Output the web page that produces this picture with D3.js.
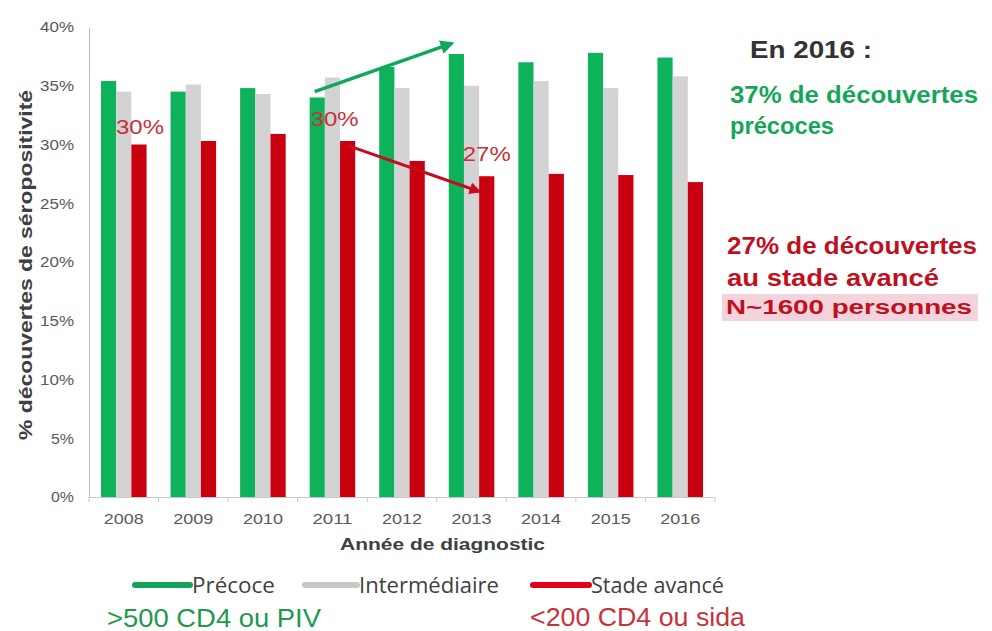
<!DOCTYPE html>
<html>
<head>
<meta charset="utf-8">
<script src="https://cdn.jsdelivr.net/npm/d3@7"></script>
<style>
  body { margin: 0; background: #fff; }
  svg { display: block; font-family: "Liberation Sans", Arial, sans-serif; }
  .tick text { fill: #595959; font-size: 15px; }
</style>
</head>
<body>
<svg id="chart" width="992" height="631"></svg>
<script>
// data ----------------------------------------
var years = ["2008", "2009", "2010", "2011", "2012", "2013", "2014", "2015", "2016"];
var series = ["Précoce", "Intermédiaire", "Stade avancé"];
var precoce = [35.4, 34.5, 34.8, 34.0, 36.6, 37.7, 37.0, 37.8, 37.4];
var intermediaire = [34.5, 35.1, 34.3, 35.7, 34.8, 35.0, 35.4, 34.8, 35.8];
var avance = [30.0, 30.3, 30.9, 30.3, 28.6, 27.3, 27.5, 27.4, 26.8];
var yTicks = [0, 5, 10, 15, 20, 25, 30, 35, 40];

var colors = ["#0db25a", "#d3d3d3", "#c9000f"];
var legendColors = ["#14a35a", "#c8c8c8", "#e3001b"];

var svg = d3.select("#chart");

// Scales ----------------------------------------
var x0 = d3.scaleBand().domain(years).range([89, 715]).paddingInner(0).paddingOuter(0);
var x1 = d3.scaleBand().domain(series).range([12, x0.bandwidth() - 12]);
var y = d3.scaleLinear().domain([0, 40]).range([497, 27]);

// Axes ----------------------------------------
var yAxis = svg.append("g")
  .attr("transform", "translate(89,0)")
  .call(d3.axisLeft(y).tickValues(yTicks).tickSize(0).tickPadding(15).tickFormat(function(d) { return d + "%"; }));
yAxis.select(".domain").attr("stroke", "#bfbfbf");
yAxis.selectAll(".tick text")
  .attr("textLength", function(d) { return d < 10 ? 23 : 34; })
  .attr("lengthAdjust", "spacingAndGlyphs");

var xAxis = svg.append("g")
  .attr("transform", "translate(0,497)")
  .call(d3.axisBottom(x0).tickSize(0).tickPadding(16).tickSizeOuter(0));
xAxis.select(".domain").attr("stroke", "#c8c8c8").attr("d", "M89,0.5H715");
xAxis.selectAll(".tick text")
  .attr("textLength", 40)
  .attr("lengthAdjust", "spacingAndGlyphs");

// small ticks on band boundaries
svg.append("g").selectAll("line")
  .data(years.concat(["end"]))
  .enter().append("line")
  .attr("x1", function(d, i) { return 89 + i * x0.step(); })
  .attr("x2", function(d, i) { return 89 + i * x0.step(); })
  .attr("y1", 497).attr("y2", 502)
  .attr("stroke", "#c8c8c8");

// Bars ----------------------------------------
var rows = years.map(function(yr, i) {
  return { year: yr, values: [precoce[i], intermediaire[i], avance[i]] };
});

var groups = svg.append("g").selectAll("g")
  .data(rows)
  .enter().append("g")
  .attr("transform", function(d) { return "translate(" + x0(d.year) + ",0)"; });

groups.selectAll("rect")
  .data(function(d) { return d.values.map(function(v, j) { return { s: series[j], v: v, j: j }; }); })
  .enter().append("rect")
  .attr("x", function(d) { return x1(d.s); })
  .attr("width", x1.bandwidth())
  .attr("y", function(d) { return y(d.v); })
  .attr("height", function(d) { return y(0) - y(d.v); })
  .attr("fill", function(d) { return colors[d.j]; });

// Axis titles ----------------------------------------
svg.append("text")
  .attr("x", 340).attr("y", 550)
  .attr("font-size", 17).attr("font-weight", "bold").attr("fill", "#404040")
  .attr("textLength", 205).attr("lengthAdjust", "spacingAndGlyphs")
  .text("Année de diagnostic");

svg.append("text")
  .attr("transform", "translate(32,440) rotate(-90)")
  .attr("font-size", 19).attr("font-weight", "bold").attr("fill", "#404040")
  .attr("textLength", 350).attr("lengthAdjust", "spacingAndGlyphs")
  .text("% découvertes de séropositivité");

// Annotations ----------------------------------------
var defs = svg.append("defs");
function marker(id, col) {
  defs.append("marker")
    .attr("id", id).attr("viewBox", "0 0 10 10")
    .attr("refX", 8).attr("refY", 5)
    .attr("markerWidth", 4).attr("markerHeight", 4)
    .attr("orient", "auto")
    .append("path").attr("d", "M0,0L10,5L0,10z").attr("fill", col);
}
marker("arrG", "#0fa85a");
marker("arrR", "#c40d1e");

// green arrow 2011 -> 2013 (in data coords)
svg.append("line")
  .attr("x1", x0("2011") + 17).attr("y1", y(34.5))
  .attr("x2", x0("2013") + 15).attr("y2", y(38.6))
  .attr("stroke", "#0fa85a").attr("stroke-width", 3.5)
  .attr("marker-end", "url(#arrG)");

// red arrow 2011 -> 2013
svg.append("line")
  .attr("x1", x0("2011") + x1("Stade avancé") + 8).attr("y1", y(29.9))
  .attr("x2", x0("2013") + x1("Stade avancé")).attr("y2", y(26.0))
  .attr("stroke", "#c40d1e").attr("stroke-width", 3)
  .attr("marker-end", "url(#arrR)");

var labels = [
  { year: "2008", text: "30%", v: 30.9, dx: 14 },
  { year: "2011", text: "30%", v: 31.6, dx: 0 },
  { year: "2013", text: "27%", v: 28.6, dx: 13 }
];
svg.append("g").selectAll("text")
  .data(labels)
  .enter().append("text")
  .attr("x", function(d) { return x0(d.year) + d.dx + 13; })
  .attr("y", function(d) { return y(d.v); })
  .attr("font-size", 21).attr("fill", "#c9303a")
  .attr("textLength", 48).attr("lengthAdjust", "spacingAndGlyphs")
  .text(function(d) { return d.text; });

// Right-hand text ----------------------------------------
function bigText(x, yy, txt, col, size, len) {
  svg.append("text").attr("x", x).attr("y", yy)
    .attr("font-size", size).attr("font-weight", "bold").attr("fill", col)
    .attr("textLength", len).attr("lengthAdjust", "spacingAndGlyphs")
    .text(txt);
}
bigText(750, 58, "En 2016 :", "#333", 23, 122);
bigText(730, 103, "37% de découvertes", "#16a65a", 23, 248);
bigText(730, 134, "précoces", "#16a65a", 23, 104);
svg.append("rect").attr("x", 722).attr("y", 294).attr("width", 256).attr("height", 27)
  .attr("fill", "#f4d4dc");
bigText(727, 254, "27% de découvertes", "#c0101e", 23, 250);
bigText(727, 286, "au stade avancé", "#c0101e", 23, 212);
bigText(726, 314, "N~1600 personnes", "#c0101e", 20, 246);

// Legend ----------------------------------------
var legendX = [135, 305, 533];
var legendW = [55, 52, 56];
var legendTextW = [83, 140, 133];
var leg = svg.append("g").selectAll("g")
  .data(series)
  .enter().append("g");
leg.append("line")
  .attr("x1", function(d, i) { return legendX[i]; })
  .attr("x2", function(d, i) { return legendX[i] + legendW[i]; })
  .attr("y1", 585).attr("y2", 585)
  .attr("stroke", function(d, i) { return legendColors[i]; })
  .attr("stroke-width", 6).attr("stroke-linecap", "round");
leg.append("text")
  .attr("x", function(d, i) { return legendX[i] + legendW[i] + 2; })
  .attr("y", 593)
  .attr("font-family", "'Open Sans', sans-serif")
  .attr("font-size", 21).attr("fill", "#404040")
  .attr("textLength", function(d, i) { return legendTextW[i]; })
  .attr("lengthAdjust", "spacingAndGlyphs")
  .text(function(d) { return d; });

svg.append("text").attr("x", 107).attr("y", 627)
  .attr("font-size", 25).attr("fill", "#1d9a4e")
  .attr("textLength", 214).attr("lengthAdjust", "spacingAndGlyphs")
  .text(">500 CD4 ou PIV");
svg.append("text").attr("x", 530).attr("y", 626)
  .attr("font-size", 25).attr("fill", "#c8323a")
  .attr("textLength", 215).attr("lengthAdjust", "spacingAndGlyphs")
  .text("<200 CD4 ou sida");
</script>
</body>
</html>
